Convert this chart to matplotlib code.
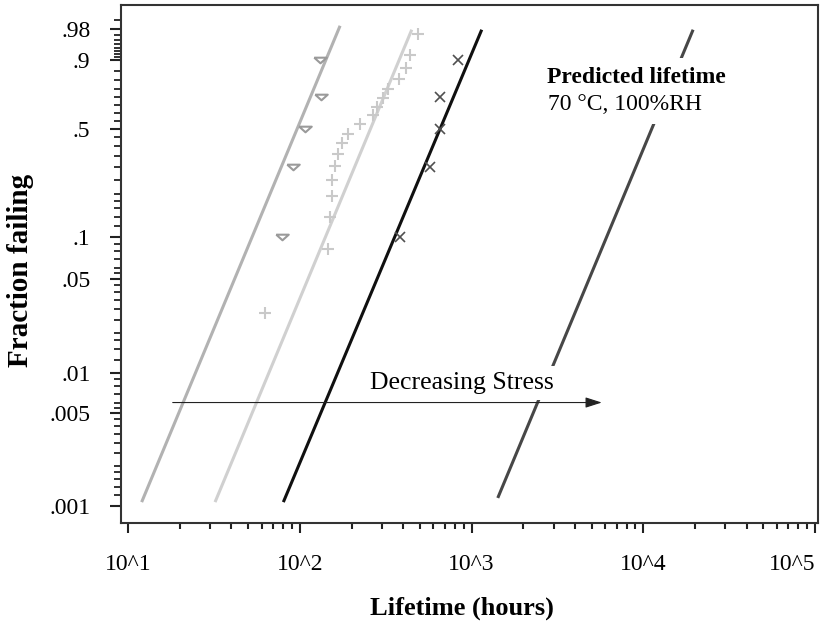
import numpy as np
import matplotlib
matplotlib.use('Agg')
from matplotlib import pyplot as plt

plt.rcParams['font.family'] = ['Liberation Serif', 'DejaVu Serif']

# fitted lines: (lifetime, fraction) at the lower and upper end
fit_low_t = [12.0, 32.1, 80.2, 1421]
fit_low_F = [0.00107, 0.00107, 0.00107, 0.00115]
fit_high_t = [171.6, 448.6, 1146, 19490]
fit_high_F = [0.984, 0.979, 0.979, 0.979]
fit_colors = ['#b2b2b2', '#d0d0d0', '#101010', '#474747']

# test data
tri_t = [78.8, 91.3, 107.3, 133, 131.2]
tri_F = [0.1, 0.3, 0.5, 0.7, 0.9]

plus_t = [62.8, 146, 150, 154, 154, 160.4, 167, 176, 191, 224, 267, 282, 305, 326, 378, 416, 438, 488]
plus_F = [0.028, 0.083, 0.139, 0.194, 0.25, 0.306, 0.361, 0.417, 0.472,
          0.528, 0.583, 0.639, 0.694, 0.75, 0.806, 0.861, 0.917, 0.972]

cross_t = [383, 573, 655, 655, 834]
cross_F = [0.1, 0.3, 0.5, 0.7, 0.9]

yticks = [.001, .005, .01, .05, .1, .5, .9, .98]
ylabels = ['.001', '.005', '.01', '.05', '.1', '.5', '.9', '.98']
xticks = [1e1, 1e2, 1e3, 1e4, 1e5]
xlabels = ['10^1', '10^2', '10^3', '10^4', '10^5']

arrow_F = 0.006
arrow_t = [18.2, 5730]


def fwd(F):
    F = np.clip(F, 1e-12, 1 - 1e-12)
    return np.log(-np.log(1 - F))


def inv(w):
    return 1 - np.exp(-np.exp(w))


fig = plt.figure(figsize=(8.23, 6.25), dpi=100)
ax = fig.add_axes([121/823, 1-523/625, 697/823, 518/625])
ax.set_xscale('log')
ax.set_yscale('function', functions=(fwd, inv))

for i in range(4):
    ax.plot([fit_low_t[i], fit_high_t[i]], [fit_low_F[i], fit_high_F[i]],
            color=fit_colors[i], lw=2.2, solid_capstyle='butt', zorder=2)

tri = [(-1, 0.45), (1, 0.45), (0, -0.45), (-1, 0.45)]
ax.plot(tri_t, tri_F, ls='none', marker=tri, ms=9, mfc='none', mec='#9a9a9a', mew=1.5, zorder=3)
ax.plot(plus_t, plus_F, ls='none', marker='+', ms=9, mec='#c9c9c9', mew=1.5, zorder=3)
ax.plot(cross_t, cross_F, ls='none', marker='x', ms=7, mec='#505050', mew=1.2, zorder=3)

ax.annotate('', xy=(arrow_t[1], arrow_F), xytext=(arrow_t[0], arrow_F),
            arrowprops=dict(arrowstyle='-|>,head_length=1.0,head_width=0.32',
                            mutation_scale=10, color='#222222', lw=0.8,
                            shrinkA=0, shrinkB=0), zorder=5)

ax.text(0.357, 0.270, 'Decreasing Stress', transform=ax.transAxes, fontsize=18.5,
        ha='left', va='center', zorder=4,
        bbox=dict(facecolor='white', edgecolor='none', pad=4))
ax.text(0.611, 0.861, 'Predicted lifetime', transform=ax.transAxes, fontsize=17,
        fontweight='bold', ha='left', va='center', zorder=4,
        bbox=dict(facecolor='white', edgecolor='none', pad=6))
ax.text(0.612, 0.807, '70 °C, 100%RH', transform=ax.transAxes, fontsize=17,
        ha='left', va='center', zorder=4,
        bbox=dict(facecolor='white', edgecolor='none', pad=6))

ax.set_xlim(10**0.959, 10**5.017)
ax.set_ylim(0.000745, 0.99734)

ax.set_xticks(xticks)
ax.set_xticklabels(xlabels)
ax.set_yticks(yticks)
ax.set_yticklabels(ylabels)
yminor = [0.0012, 0.0014, 0.0016, 0.0018, 0.002, 0.0025, 0.003, 0.0035, 0.004, 0.0045,
          0.0055, 0.006, 0.007, 0.008, 0.009,
          0.0125, 0.015, 0.0175, 0.02, 0.025, 0.03, 0.035, 0.04, 0.045,
          0.055, 0.06, 0.07, 0.08, 0.09,
          0.12, 0.14, 0.16, 0.18, 0.2, 0.25, 0.3, 0.35, 0.4, 0.45,
          0.55, 0.6, 0.65, 0.7, 0.75, 0.8, 0.85,
          0.91, 0.92, 0.93, 0.94, 0.95, 0.96, 0.97, 0.99]
ax.set_yticks(yminor, minor=True)
ax.yaxis.set_minor_formatter(plt.NullFormatter())

ax.tick_params(axis='both', which='major', labelsize=17, width=1.5, color='#222222')
ax.tick_params(axis='x', which='major', length=7.5, pad=15)
ax.tick_params(axis='x', which='minor', length=4.5, width=1.5, color='#222222')
ax.tick_params(axis='y', which='major', length=8, pad=14)
ax.tick_params(axis='y', which='minor', length=5, width=1.3, color='#222222')
ax.get_xticklabels()[-1].set_horizontalalignment('right')
ax.get_xticklabels()[0].set_horizontalalignment('center')

for s in ax.spines.values():
    s.set_color('#333333')
    s.set_linewidth(1.5)

fig.text(21/823, 1-270/625, 'Fraction failing', rotation=90, fontsize=21,
         fontweight='bold', ha='center', va='center')
fig.text(462/823, 1-608/625, 'Lifetime (hours)', fontsize=19,
         fontweight='bold', ha='center', va='center')

fig.savefig('out.png', dpi=100)
